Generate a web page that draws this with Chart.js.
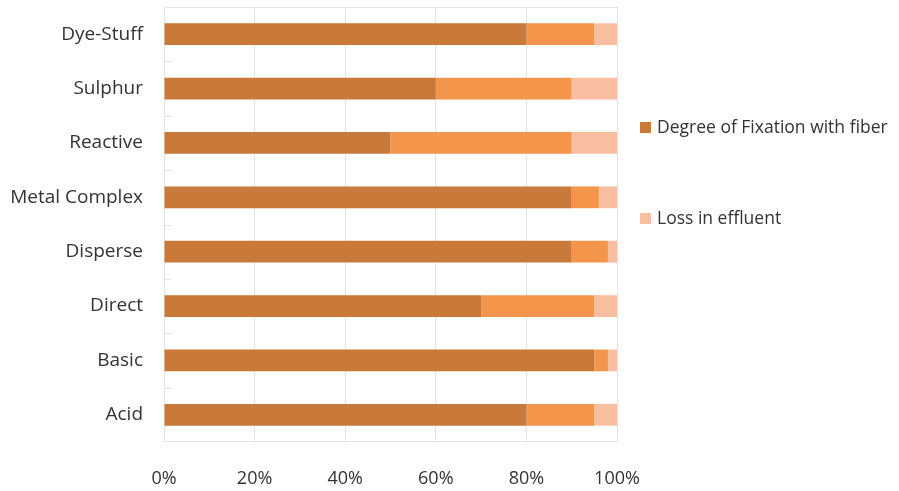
<!DOCTYPE html>
<html>
<head>
<meta charset="utf-8">
<script src="https://cdn.jsdelivr.net/npm/chart.js@4/dist/chart.umd.min.js"></script>
<style>
  html, body { margin: 0; padding: 0; background: #fff; }
  #wrap { width: 899px; height: 491px; }
</style>
</head>
<body>
<div id="wrap"><canvas id="dyeChart"></canvas></div>
<script>
// dye classes, top to bottom
var categories = ['Dye-Stuff', 'Sulphur', 'Reactive', 'Metal Complex', 'Disperse', 'Direct', 'Basic', 'Acid'];

// percent of dye, per class
var fixation   = [80, 60, 50, 90, 90, 70, 95, 80];
var middlePart = [15, 30, 40,  6,  8, 25,  3, 15];
var loss       = [ 5, 10, 10,  4,  2,  5,  2,  5];

var xTicks = [0, 20, 40, 60, 80, 100];

var legendNames = ['Degree of Fixation with fiber', '', 'Loss in effluent'];

var fontFamily = "'Open Sans', sans-serif";
var textColor = '#333333';
var gridColor = '#E3E3E3';

// top/bottom frame lines and the short category ticks inside the axis
var plotFrame = {
    id: 'plotFrame',
    beforeDatasetsDraw: function(chart) {
        var a = chart.chartArea;
        var y = chart.scales.y;
        var ctx = chart.ctx;
        var band = (a.bottom - a.top) / categories.length;
        ctx.save();
        ctx.strokeStyle = gridColor;
        ctx.lineWidth = 1;
        ctx.beginPath();
        ctx.moveTo(a.left, a.top + 0.5);
        ctx.lineTo(a.right, a.top + 0.5);
        ctx.moveTo(a.left, a.bottom - 0.5);
        ctx.lineTo(a.right, a.bottom - 0.5);
        for (var i = 1; i < categories.length; i++) {
            var py = Math.round(y.getPixelForValue(i) - band / 2) + 0.5;
            ctx.moveTo(a.left, py);
            ctx.lineTo(a.left + 7, py);
        }
        ctx.stroke();
        ctx.restore();
    }
};

// draws the legend on the right like the original (two entries, wide gap)
var sideLegend = {
    id: 'sideLegend',
    afterDraw: function(chart) {
        var ctx = chart.ctx;
        var rows = [{ ds: 0, y: 127 }, { ds: 2, y: 218 }];
        ctx.save();
        ctx.font = '17.5px ' + fontFamily;
        ctx.textBaseline = 'middle';
        ctx.textAlign = 'left';
        rows.forEach(function(r) {
            var ds = chart.data.datasets[r.ds];
            ctx.fillStyle = ds.backgroundColor;
            ctx.fillRect(640, r.y - 5, 11, 11);
            ctx.fillStyle = textColor;
            ctx.fillText(ds.label, 657, r.y + 1);
        });
        ctx.restore();
    }
};

var ctx = document.getElementById('dyeChart').getContext('2d');

var dyeChart = new Chart(ctx, {
    type: 'bar',
    data: {
        labels: categories,
        datasets: [
            {
                label: legendNames[0],
                data: fixation,
                backgroundColor: '#C97A3A'
            },
            {
                label: legendNames[1],
                data: middlePart,
                backgroundColor: '#F3964B'
            },
            {
                label: legendNames[2],
                data: loss,
                backgroundColor: '#F8BEA2'
            }
        ]
    },
    options: {
        indexAxis: 'y',
        responsive: true,
        maintainAspectRatio: false,
        animation: false,
        layout: {
            padding: { top: 7, right: 282, bottom: 0, left: 0 }
        },
        datasets: {
            bar: {
                categoryPercentage: 1.0,
                barPercentage: 0.4,
                borderWidth: 0
            }
        },
        plugins: {
            legend: { display: false },
            tooltip: { enabled: false }
        },
        scales: {
            x: {
                stacked: true,
                min: 0,
                max: 100,
                afterBuildTicks: function(scale) {
                    scale.ticks = xTicks.map(function(v) { return { value: v }; });
                },
                afterFit: function(scale) {
                    scale.height = 49;
                    scale.paddingLeft = 0;
                    scale.paddingRight = 0;
                },
                border: { display: false },
                grid: {
                    color: gridColor,
                    lineWidth: 1,
                    drawTicks: false
                },
                ticks: {
                    color: textColor,
                    font: { family: fontFamily, size: 18 },
                    padding: 26,
                    maxRotation: 0,
                    callback: function(v) { return v + '%'; }
                }
            },
            y: {
                stacked: true,
                afterFit: function(scale) {
                    scale.width = 164;
                    scale.paddingTop = 0;
                    scale.paddingBottom = 0;
                },
                border: { display: false },
                // grid stays on (invisible) so the label gap matches
                grid: {
                    display: true,
                    drawOnChartArea: false,
                    drawTicks: false,
                    color: 'rgba(0,0,0,0)'
                },
                ticks: {
                    color: textColor,
                    font: { family: fontFamily, size: 19 },
                    padding: 21
                }
            }
        }
    },
    plugins: [plotFrame, sideLegend]
});
</script>
</body>
</html>
